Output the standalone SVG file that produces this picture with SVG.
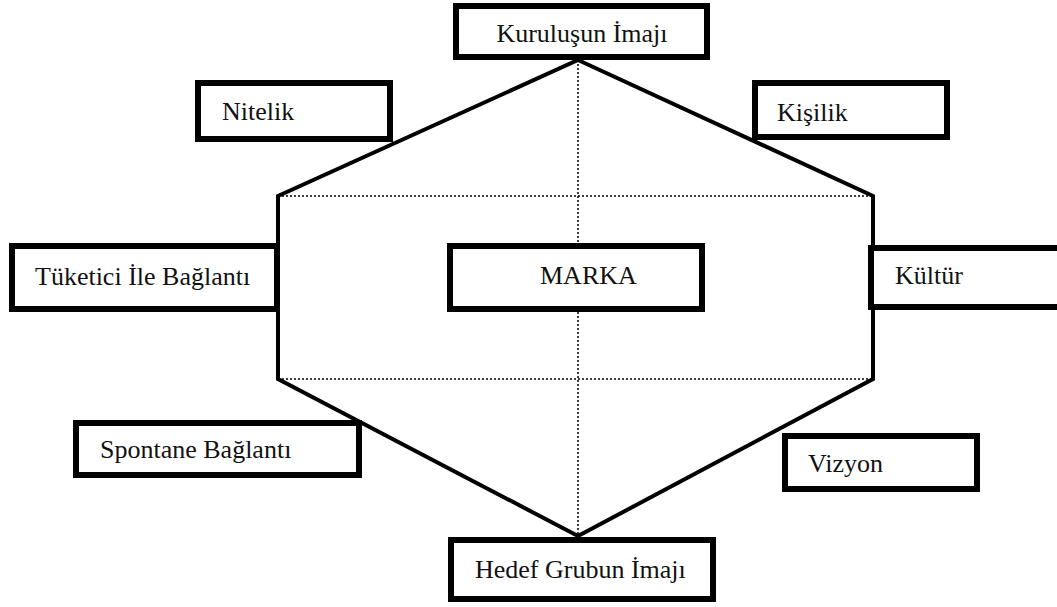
<svg xmlns="http://www.w3.org/2000/svg" width="1057" height="607" viewBox="0 0 1057 607">
<style>
.box{fill:#fff;stroke:#000;stroke-width:6}
text{font-family:'Liberation Serif','DejaVu Serif',serif;font-size:26px;fill:#111}
.hex{fill:none;stroke:#000;stroke-width:4;stroke-linejoin:miter}
.dot{fill:none;stroke:#000;stroke-width:1.5;stroke-dasharray:2 2}
</style>
<rect width="1057" height="607" fill="#fff"/>
<g id="connectors">
<line class="dot" x1="278" y1="196" x2="873" y2="196"/>
<line class="dot" x1="278" y1="379" x2="873" y2="379"/>
<line class="dot" x1="578" y1="60" x2="578" y2="536"/>
<polygon class="hex" points="578,60 873,196 873,379 578,536 278,379 278,196"/>
</g>
<g id="kurulusun"><rect class="box" x="456" y="6" width="251" height="51"/><text x="582" y="42" text-anchor="middle">Kuruluşun İmajı</text></g>
<g id="nitelik"><rect class="box" x="198" y="83" width="192" height="56"/><text x="222" y="120">Nitelik</text></g>
<g id="kisilik"><rect class="box" x="755" y="83" width="192" height="54"/><text x="777" y="121">Kişilik</text></g>
<g id="tuketici"><rect class="box" x="12" y="246" width="265" height="63"/><text x="35" y="285">Tüketici İle Bağlantı</text></g>
<g id="marka"><rect class="box" x="450" y="246" width="252" height="63"/><text x="540" y="284">MARKA</text></g>
<g id="kultur"><rect class="box" x="871" y="248" width="200" height="59"/><text x="895" y="284">Kültür</text></g>
<g id="spontane"><rect class="box" x="76" y="423" width="283" height="52"/><text x="100" y="458">Spontane Bağlantı</text></g>
<g id="vizyon"><rect class="box" x="785" y="436" width="192" height="53"/><text x="808" y="472">Vizyon</text></g>
<g id="hedef"><rect class="box" x="451" y="540" width="262" height="59"/><text x="475" y="578">Hedef Grubun İmajı</text></g>
</svg>
